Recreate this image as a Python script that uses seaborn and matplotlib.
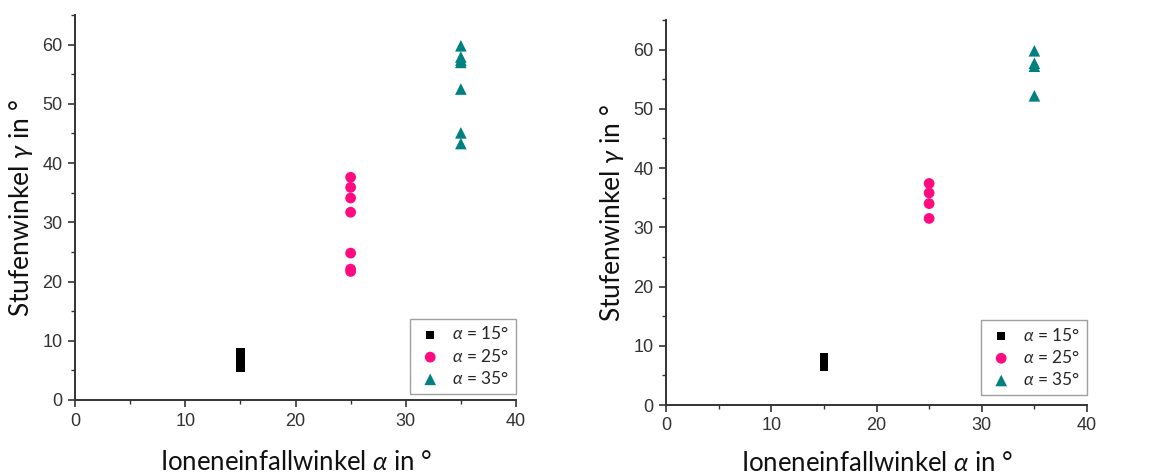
import matplotlib
matplotlib.use("Agg")
import matplotlib.pyplot as plt
import seaborn as sns
import pandas as pd
from matplotlib.ticker import MultipleLocator

# ---- data ----
alpha_groups = ["α = 15°", "α = 25°", "α = 35°"]
left_a15 = [5.5, 6.0, 6.5, 7.0, 7.5, 8.0]
left_a25 = [37.6, 35.9, 34.1, 31.7, 24.8, 22.1, 21.7]
left_a35 = [59.8, 57.9, 57.4, 57.0, 52.5, 45.1, 43.3]
right_a15 = [6.5, 7.0, 7.5, 8.0]
right_a25 = [37.4, 35.8, 34.0, 31.5]
right_a35 = [59.8, 57.7, 57.2, 52.2]
x_values = [15, 25, 35]
xlabel = "Ioneneinfallwinkel $\\mathit{α}$ in °"
ylabel = "Stufenwinkel $\\mathit{γ}$ in °"

sns.set_theme(style="ticks")
plt.rcParams["font.family"] = ["Liberation Sans", "DejaVu Sans"]
plt.rcParams["mathtext.fontset"] = "custom"
plt.rcParams["mathtext.it"] = "Lato:italic"
plt.rcParams["mathtext.rm"] = "Lato"

colors = ["#000000", "#FF0A80", "#008080"]
markers = ["s", "o", "^"]
sizes = [38, 60, 70]

fig = plt.figure(figsize=(11.69, 4.76), dpi=100)
W, H = 1169, 476
ax1 = fig.add_axes([75 / W, 1 - 400 / H, (516 - 75) / W, (400 - 15) / H])
ax2 = fig.add_axes([666 / W, 1 - 405 / H, (1087 - 666) / W, (405 - 20) / H])


def draw(ax, series, leg_bbox, xpad):
    for i, (g, vals) in enumerate(zip(alpha_groups, series)):
        df = pd.DataFrame({"x": [x_values[i]] * len(vals), "y": vals})
        lab = g.replace("α", "$\\mathit{α}$")
        sns.scatterplot(data=df, x="x", y="y", ax=ax, marker=markers[i],
                        color=colors[i], s=sizes[i], edgecolor="none",
                        linewidth=0, label=lab, zorder=3)
    ax.set_xlim(0, 40)
    ax.set_ylim(0, 65)
    ax.xaxis.set_major_locator(MultipleLocator(10))
    ax.xaxis.set_minor_locator(MultipleLocator(5))
    ax.yaxis.set_major_locator(MultipleLocator(10))
    ax.yaxis.set_minor_locator(MultipleLocator(5))
    ax.tick_params(which="major", length=5, width=1.2, color="#333333",
                   labelsize=13, labelcolor="#333333", direction="out",
                   pad=4)
    ax.tick_params(which="minor", length=3, width=1.0, color="#333333",
                   direction="out")
    for s in ["left", "bottom"]:
        ax.spines[s].set_color("#333333")
        ax.spines[s].set_linewidth(1.4)
    sns.despine(ax=ax)
    ax.set_xlabel(xlabel, fontsize=18.5, fontfamily="Lato", color="#111111",
                  labelpad=xpad)
    ax.set_ylabel(ylabel, fontsize=19, fontfamily="Lato", color="#111111",
                  labelpad=5)
    leg = ax.legend(loc="lower right", bbox_to_anchor=leg_bbox, frameon=True,
                    fancybox=False, edgecolor="#888888",
                    handletextpad=0.5, borderpad=0.4, labelspacing=0.3,
                    borderaxespad=0, handlelength=1.5,
                    prop={"family": "Lato", "size": 12.5})
    leg.get_frame().set_linewidth(1.0)


draw(ax1, [left_a15, left_a25, left_a35], (1.0, 0.016), 15)
draw(ax2, [right_a15, right_a25, right_a35], (1.0, 0.026), 12)

fig.savefig("out.png", dpi=100)
